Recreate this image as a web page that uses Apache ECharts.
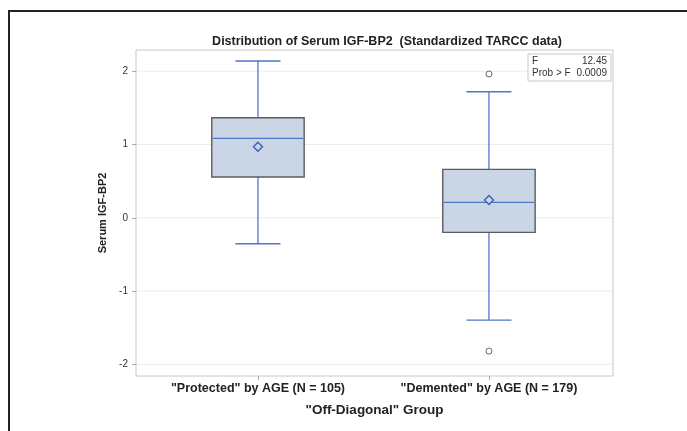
<!DOCTYPE html>
<html>
<head>
<meta charset="utf-8">
<script src="https://cdn.jsdelivr.net/npm/echarts@6/dist/echarts.min.js"></script>
<style>
html,body{margin:0;padding:0;background:#fff;}
#chart{width:687px;height:431px;}
</style>
</head>
<body>
<div id="chart"></div>
<script>
var categories = ['"Protected" by AGE (N = 105)', '"Demented" by AGE (N = 179)'];
var whiskerLow = [-0.355, -1.397];
var q1 = [0.556, -0.20];
var median = [1.085, 0.21];
var q3 = [1.366, 0.661];
var whiskerHigh = [2.14, 1.72];
var means = [0.97, 0.242];
var outliers = [[1, 1.963], [1, -1.82]];
var yTicks = [-2, -1, 0, 1, 2];
var xTicks = [0, 1];
var statF = '12.45';
var statP = '0.0009';

var boxData = categories.map(function (c, i) {
  return [i, whiskerLow[i], q1[i], median[i], q3[i], whiskerHigh[i], means[i]];
});

var BLUE = '#4f76c8';
var FILL = '#cad5e6';
var BORDER = '#5c5c5c';

function renderBox(params, api) {
  var x = api.value(0);
  var pLow = api.coord([x, api.value(1)]);
  var pQ1 = api.coord([x, api.value(2)]);
  var pMed = api.coord([x, api.value(3)]);
  var pQ3 = api.coord([x, api.value(4)]);
  var pHigh = api.coord([x, api.value(5)]);
  var pMean = api.coord([x, api.value(6)]);
  var unit = api.size([1, 0])[0];
  var bw = unit * 0.4;
  var cw = unit * 0.195;
  var cx = pMed[0];
  var d = 4.5;
  return {
    type: 'group',
    children: [
      {type: 'line', shape: {x1: cx, y1: pHigh[1], x2: cx, y2: pLow[1]}, style: {stroke: BLUE, lineWidth: 1.3}},
      {type: 'line', shape: {x1: cx - cw / 2, y1: pHigh[1], x2: cx + cw / 2, y2: pHigh[1]}, style: {stroke: BLUE, lineWidth: 1.3}},
      {type: 'line', shape: {x1: cx - cw / 2, y1: pLow[1], x2: cx + cw / 2, y2: pLow[1]}, style: {stroke: BLUE, lineWidth: 1.3}},
      {type: 'rect', shape: {x: cx - bw / 2, y: pQ3[1], width: bw, height: pQ1[1] - pQ3[1]}, style: {fill: FILL, stroke: BORDER, lineWidth: 1.4}},
      {type: 'line', shape: {x1: cx - bw / 2 + 1, y1: pMed[1], x2: cx + bw / 2 - 1, y2: pMed[1]}, style: {stroke: BLUE, lineWidth: 1.3}},
      {type: 'polygon', shape: {points: [[cx, pMean[1] - d], [cx + d, pMean[1]], [cx, pMean[1] + d], [cx - d, pMean[1]]]}, style: {fill: FILL, stroke: '#3a62b8', lineWidth: 1.4}}
    ]
  };
}

function renderGrid(params, api) {
  var cs = params.coordSys;
  var p = api.coord([0, api.value(0)]);
  return {type: 'line', shape: {x1: cs.x + 1, y1: p[1], x2: cs.x + cs.width - 1, y2: p[1]},
    style: {stroke: '#ececec', lineWidth: 1}};
}

var chart = echarts.init(document.getElementById('chart'));
chart.setOption({
  backgroundColor: '#fff',
  animation: false,
  title: {
    text: 'Distribution of Serum IGF-BP2  (Standardized TARCC data)',
    left: 382, top: 30, textAlign: 'center',
    textStyle: {fontFamily: 'Liberation Sans', fontWeight: 'bold', fontSize: 12.5, color: '#222'}
  },
  grid: {left: 136, top: 50, width: 477, height: 326, show: true, borderColor: '#c8c8c8', borderWidth: 1},
  xAxis: {
    type: 'value', min: -0.528, max: 1.537, position: 'bottom',
    name: '"Off-Diagonal" Group', nameLocation: 'middle', nameGap: 27,
    nameTextStyle: {fontFamily: 'Liberation Sans', fontWeight: 'bold', fontSize: 13.5, color: '#222'},
    axisLine: {show: false, onZero: false},
    axisTick: {show: true, length: 4, lineStyle: {color: '#aaa'}, customValues: xTicks},
    axisLabel: {margin: 6, fontFamily: 'Liberation Sans', fontWeight: 'bold', fontSize: 12.5, color: '#222',
      customValues: xTicks, formatter: function (v) { return categories[Math.round(v)] || ''; }},
    splitLine: {show: false}
  },
  yAxis: {
    type: 'value', min: -2.16, max: 2.29, position: 'left',
    name: 'Serum IGF-BP2', nameLocation: 'middle', nameGap: 27, nameRotate: 90,
    nameTextStyle: {fontFamily: 'Liberation Sans', fontWeight: 'bold', fontSize: 11, color: '#222'},
    axisLine: {show: false, onZero: false},
    axisTick: {show: true, length: 4, lineStyle: {color: '#aaa'}, customValues: yTicks},
    axisLabel: {margin: 8, fontFamily: 'Liberation Sans', fontSize: 10, color: '#333', customValues: yTicks},
    splitLine: {show: false}
  },
  series: [
    {type: 'custom', renderItem: renderGrid, data: yTicks.map(function (v) { return [v]; }),
     encode: {y: 0}, silent: true, z: 1, clip: true},
    {type: 'custom', renderItem: renderBox, data: boxData, encode: {x: 0, y: [1, 2, 3, 4, 5]}, z: 5},
    {type: 'scatter', data: outliers, symbol: 'circle', symbolSize: 6,
     itemStyle: {color: '#fff', borderColor: '#444', borderWidth: 1}, z: 6}
  ],
  graphic: [
    {type: 'line', shape: {x1: 9, y1: 11, x2: 687, y2: 11}, style: {stroke: '#222', lineWidth: 2}},
    {type: 'line', shape: {x1: 9, y1: 10, x2: 9, y2: 431}, style: {stroke: '#222', lineWidth: 2}},
    {type: 'rect', shape: {x: 528, y: 54, width: 83, height: 27}, style: {fill: '#fff', stroke: '#c8c8c8', lineWidth: 1}, z: 10},
    {type: 'text', x: 532, y: 56, style: {text: 'F', fontFamily: 'Liberation Sans', fontSize: 10, fill: '#333'}, z: 11},
    {type: 'text', x: 607, y: 56, style: {text: statF, textAlign: 'right', fontFamily: 'Liberation Sans', fontSize: 10, fill: '#333'}, z: 11},
    {type: 'text', x: 532, y: 68, style: {text: 'Prob > F', fontFamily: 'Liberation Sans', fontSize: 10, fill: '#333'}, z: 11},
    {type: 'text', x: 607, y: 68, style: {text: statP, textAlign: 'right', fontFamily: 'Liberation Sans', fontSize: 10, fill: '#333'}, z: 11}
  ]
});
</script>
</body>
</html>
